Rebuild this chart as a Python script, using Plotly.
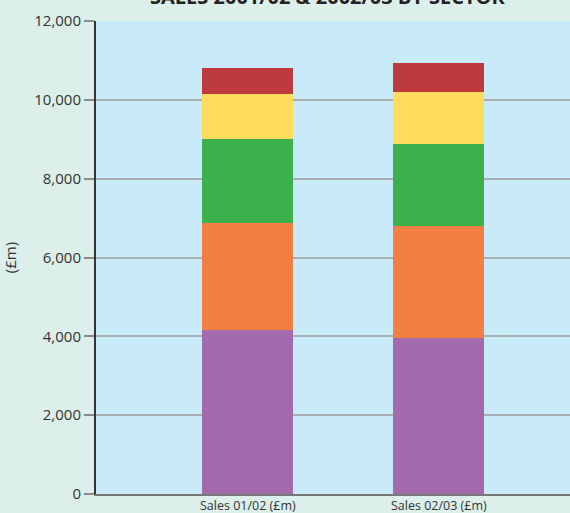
import plotly.graph_objects as go

categories = ["Sales 01/02 (£m)", "Sales 02/03 (£m)"]
series_names = ["Sector A", "Sector B", "Sector C", "Sector D", "Sector E"]
purple = [4160, 3970]
orange = [2720, 2840]
green = [2130, 2075]
yellow = [1145, 1320]
red = [660, 735]
y_ticks = [0, 2000, 4000, 6000, 8000, 10000, 12000]
y_tick_labels = ["0", "2,000", "4,000", "6,000", "8,000", "10,000", "12,000"]

series = [purple, orange, green, yellow, red]
colors = ["#a36aad", "#f37f44", "#3cb14b", "#ffdb5e", "#be3a3e"]

fig = go.Figure()
for name, vals, col in zip(series_names, series, colors):
    fig.add_trace(go.Bar(x=categories, y=vals, name=name, marker_color=col,
                         marker_line_width=0, width=0.476))

fig.update_layout(
    barmode="stack",
    width=570, height=513,
    margin=dict(l=96, r=0, t=21, b=19),
    paper_bgcolor="#dcefea",
    plot_bgcolor="#c8eaf9",
    showlegend=False,
    font=dict(family="Open Sans", color="#333333"),
)
fig.update_xaxes(range=[-0.793, 1.688], showgrid=False, ticks="", automargin=False,
                 showticklabels=False,
                 showline=True, linecolor="#777777", linewidth=2)
fig.update_yaxes(range=[0, 12000], tickvals=y_ticks, ticktext=y_tick_labels, automargin=False,
                 showgrid=True, gridcolor="#a8b0b3", gridwidth=1.5,
                 ticks="outside", ticklen=10, tickcolor="#8a8a8a", tickwidth=1.5,
                 tickfont=dict(size=15, color="#333333"),
                 showline=True, linecolor="#333333", linewidth=2,
                 zeroline=False,
                 title=dict(text="(£m)", font=dict(size=15, color="#333333"), standoff=14))
for cat in categories:
    fig.add_annotation(text=cat, x=cat, xref="x", y=0, yref="paper", yanchor="top",
                       yshift=-1, showarrow=False,
                       font=dict(size=12.5, color="#333333", family="Open Sans"))
fig.add_annotation(text="<b>SALES 2001/02 & 2002/03 BY SECTOR</b>", xref="paper", yref="paper",
                   x=0.489, y=1, yanchor="bottom", yshift=9, showarrow=False,
                   font=dict(size=20, color="#222222", family="Open Sans"))
fig.write_html("out.html")
